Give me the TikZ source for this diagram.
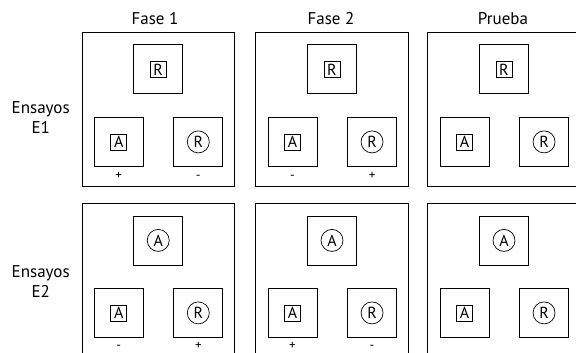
\documentclass[tikz,border=0pt]{standalone}
\usepackage{fontspec}
\setmainfont{PT Sans}
\usetikzlibrary{positioning}
\tikzset{
  panel/.style={draw, line width=1pt, minimum width=152.5pt, minimum height=153.5pt, inner sep=0},
  caja/.style={draw, line width=0.8pt, minimum size=49pt, inner sep=0},
  marco/.style={draw, line width=0.7pt, minimum width=16pt, minimum height=16pt, inner xsep=2pt, inner ysep=0, font=\fontsize{16}{16}\selectfont},
  circulo/.style={draw, circle, line width=0.7pt, minimum size=22pt, inner sep=0, font=\fontsize{16}{16}\selectfont},
  rotulo/.style={font=\fontsize{17}{20}\selectfont, align=center},
  signo/.style={font=\fontsize{13}{13}\selectfont, anchor=base}
}
\begin{document}
\begin{tikzpicture}[x=1pt,y=-1pt]
\useasboundingbox (0,0) rectangle (576,353);
\clip (0,0) rectangle (576,353);
% encabezados
\node[rotulo] (fase1) at (155,19) {Fase 1};
\node[rotulo] (fase2) at (331,19) {Fase 2};
\node[rotulo] (prueba) at (503,19) {Prueba};
\node[rotulo] (ensayo1) at (40.7,117.5) {Ensayos\\E1};
\node[rotulo] (ensayo2) at (40.7,282) {Ensayos\\E2};
% paneles
\foreach \c/\x in {1/158.25, 2/332, 3/504} {
  \node[panel] (a\c) at (\x,109.25) {};
  \node[panel] (b\c) at (\x,280.25) {};
  \foreach \f in {a,b} {
    \node[caja, below=12.5pt of \f\c.north] (\f\c t) {};
    \node[caja, above right=19.7pt and 12.3pt of \f\c.south west] (\f\c i) {};
    \node[caja, above left=19.7pt and 11.8pt of \f\c.south east] (\f\c d) {};
    \node[marco] at (\f\c i) {A};
    \node[circulo] at (\f\c d) {R};
  }
  \node[marco] at (a\c t) {R};
  \node[circulo] at (b\c t) {A};
}
% signos
\foreach \c/\s/\t in {1/+/-, 2/-/+} {
  \node[signo] at ([yshift=-13pt]a\c i.south) {\s};
  \node[signo] at ([yshift=-13pt]a\c d.south) {\t};
}
\foreach \c/\s/\t in {1/-/+, 2/+/-} {
  \node[signo] at ([yshift=-12pt]b\c i.south) {\s};
  \node[signo] at ([yshift=-12pt]b\c d.south) {\t};
}
\end{tikzpicture}
\end{document}
